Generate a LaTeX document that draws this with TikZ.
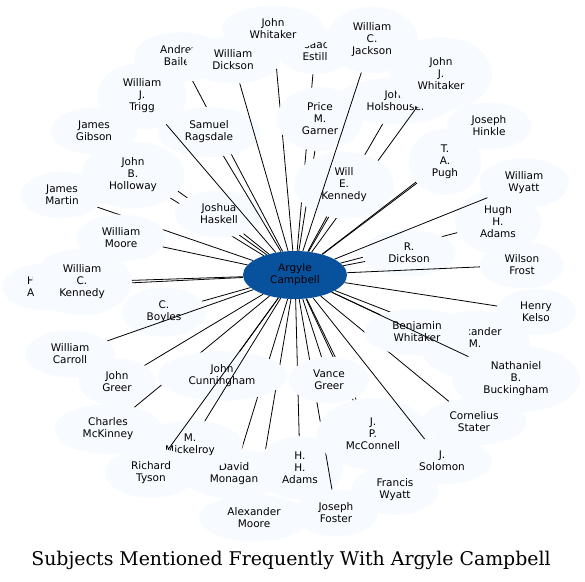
\documentclass[tikz,border=0pt]{standalone}
\usepackage{fontspec}
\usetikzlibrary{shapes.geometric}
\newfontfamily\labelfont{DejaVu Sans}
\newfontfamily\titlefont{DejaVu Serif}
\definecolor{subjfill}{HTML}{F7FBFF}
\definecolor{hubfill}{HTML}{08519C}
\pgfdeclarelayer{front}
\pgfsetlayers{main,front}
\begin{document}
\begin{tikzpicture}[
    x=1pt, y=-1pt,
    subject/.style={ellipse, fill=subjfill, inner xsep=12.5pt, inner ysep=6.5pt, align=center,
        font=\labelfont\fontsize{10.5}{12}\selectfont},
    hub/.style={ellipse, fill=hubfill, minimum width=104pt, minimum height=48pt, align=center,
        font=\labelfont\fontsize{10.5}{12}\selectfont},
    link/.style={draw=black, line width=0.8pt}
]
    \useasboundingbox (0,0) rectangle (585,581);

    % Centre
    \begin{pgfonlayer}{front}
    \node[hub] (argyle) at (295,275) {Argyle\\Campbell};
    \end{pgfonlayer}

    % Upper left
    \node[subject] (gibson) at (94,131) {James\\Gibson};
    \draw[link] (argyle) -- (gibson);
    \node[subject] (holloway) at (133,175) {John\\B.\\Holloway};
    \draw[link] (argyle) -- (holloway);
    \node[subject] (haskell) at (219,214) {Joshua\\Haskell};
    \draw[link] (argyle) -- (haskell);
    \node[subject] (estill) at (315,51) {Isaac\\Estill};
    \draw[link] (argyle) -- (estill);
    \node[subject] (bailey) at (180,57) {Andrew\\Bailey};
    \draw[link] (argyle) -- (bailey);
    \node[subject] (jwhitaker) at (273,29) {John\\Whitaker};
    \draw[link] (argyle) -- (jwhitaker);
    \node[subject] (ragsdale) at (209,132) {Samuel\\Ragsdale};
    \draw[link] (argyle) -- (ragsdale);
    \node[subject] (wdickson) at (233,60) {William\\Dickson};
    \draw[link] (argyle) -- (wdickson);
    \node[subject] (trigg) at (142,96) {William\\J.\\Trigg};
    \draw[link] (argyle) -- (trigg);

    % Upper right
    \node[subject] (garner) at (320,119) {Price\\M.\\Garner};
    \draw[link] (argyle) -- (garner);
    \node[subject] (holshouser) at (396,101) {John\\Holshouser};
    \draw[link] (argyle) -- (holshouser);
    \node[subject, minimum height=74pt] (jjwhitaker) at (441,74) {John\\J.\\Whitaker};
    \draw[link] (argyle) -- (jjwhitaker);
    \node[subject] (wekennedy) at (344,185) {Will\\E.\\Kennedy};
    \draw[link] (argyle) -- (wekennedy);
    \node[subject] (jackson) at (372,40) {William\\C.\\Jackson};
    \draw[link] (argyle) -- (jackson);
    \node[subject] (hinkle) at (489,126) {Joseph\\Hinkle};
    \draw[link] (argyle) -- (hinkle);
    \node[subject] (pugh) at (445,162) {T.\\A.\\Pugh};
    \draw[link] (argyle) -- (pugh);

    % Left
    \node[subject] (martin) at (62,195) {James\\Martin};
    \draw[link] (argyle) -- (martin);
    \node[subject] (wmoore) at (121,238) {William\\Moore};
    \draw[link] (argyle) -- (wmoore);
    \node[subject] (hanode) at (44,287) {\makebox[34pt][l]{H}\\\makebox[34pt][l]{A}};
    \draw[link] (argyle) -- (hanode);
    \node[subject] (wckennedy) at (82,282) {William\\C.\\Kennedy};
    \draw[link] (argyle) -- (wckennedy);
    \node[subject] (boyles) at (164,312) {C.\\Boyles};
    \draw[link] (argyle) -- (boyles);
    \node[subject] (carroll) at (70,354) {William\\Carroll};
    \draw[link] (argyle) -- (carroll);
    \node[subject] (jgreer) at (117,382) {John\\Greer};
    \draw[link] (argyle) -- (jgreer);
    \node[subject] (mckinney) at (108,429) {Charles\\McKinney};
    \draw[link] (argyle) -- (mckinney);

    % Lower left
    \node[subject] (amoore) at (254,518) {Alexander\\Moore};
    \draw[link] (argyle) -- (amoore);
    \node[subject] (monagan) at (234,474) {David\\Monagan};
    \draw[link] (argyle) -- (monagan);
    \node[subject] (cunningham) at (222,376) {John\\Cunningham};
    \draw[link] (argyle) -- (cunningham);
    \node[subject] (mickelroy) at (190,445) {M.\\Mickelroy};
    \draw[link] (argyle) -- (mickelroy);
    \node[subject] (tyson) at (151,473) {Richard\\Tyson};
    \draw[link] (argyle) -- (tyson);

    % Lower right
    \node[subject] (hhadams) at (300,468) {H.\\H.\\Adams};
    \draw[link] (argyle) -- (hhadams);
    \node[subject] (foster) at (336,513) {Joseph\\Foster};
    \draw[link] (argyle) -- (foster);
    \node[subject] (fwyatt) at (395,490) {Francis\\Wyatt};
    \draw[link] (argyle) -- (fwyatt);
    \node[subject, minimum height=72pt] (mcconnell) at (373,434) {J.\\P.\\McConnell};
    \draw[link] (argyle) -- (mcconnell);
    \node[subject] (vgreer) at (329,380) {Vance\\Greer};
    \draw[link] (argyle) -- (vgreer);
    \node[subject] (solomon) at (442,461) {J.\\Solomon};
    \draw[link] (argyle) -- (solomon);
    \node[subject] (stater) at (474,422) {Cornelius\\Stater};
    \draw[link] (argyle) -- (stater);
    \node[subject] (alexm) at (475,345) {Alexander\\M.\\\strut};
    \draw[link] (argyle) -- (alexm);
    \node[subject] (bwhitaker) at (417,332) {Benjamin\\Whitaker};
    \draw[link] (argyle) -- (bwhitaker);
    \node[subject] (buckingham) at (516,379) {Nathaniel\\B.\\Buckingham};
    \draw[link] (argyle) -- (buckingham);

    % Right
    \node[subject] (kelso) at (536,312) {Henry\\Kelso};
    \draw[link] (argyle) -- (kelso);
    \node[subject] (hugh) at (498,222) {Hugh\\H.\\Adams};
    \draw[link] (argyle) -- (hugh);
    \node[subject] (rdickson) at (409,253) {R.\\Dickson};
    \draw[link] (argyle) -- (rdickson);
    \node[subject] (frost) at (522,265) {Wilson\\Frost};
    \draw[link] (argyle) -- (frost);
    \node[subject] (wwyatt) at (524,183) {William\\Wyatt};
    \draw[link] (argyle) -- (wwyatt);

    % Title
    \node[font=\titlefont\fontsize{18.9}{22}\selectfont, anchor=base] (title) at (291,565)
        {Subjects Mentioned Frequently With Argyle Campbell};
\end{tikzpicture}
\end{document}
